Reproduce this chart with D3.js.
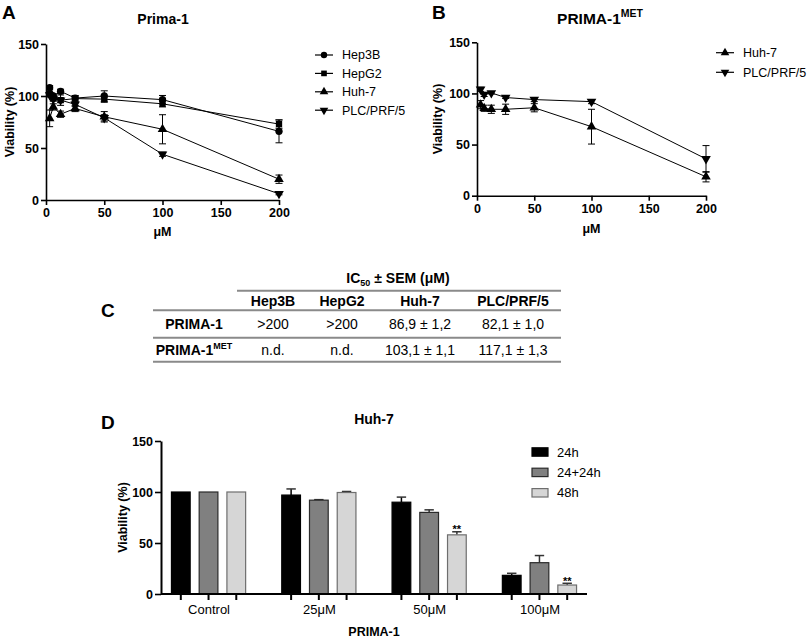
<!DOCTYPE html>
<html><head><meta charset="utf-8">
<script src="https://cdn.jsdelivr.net/npm/d3@7"></script>
<style>
body{margin:0;background:#fff;}
text{font-family:"Liberation Sans",Arial,Helvetica,sans-serif;fill:#000;}
</style>
</head><body>
<svg id="c" width="809" height="640"></svg>
<script>
// ---------- DATA ----------
const concentrations = [3.125, 6.25, 12.5, 25, 50, 100, 200];
const xTicks = [0, 50, 100, 150, 200];
const yTicks = [0, 50, 100, 150];

// Panel A (Prima-1)
const namesA = ["Hep3B", "HepG2", "Huh-7", "PLC/PRF/5"];
const hep3bMean = [108, 100, 104.5, 98, 100, 96.5, 66];
const hep3bSem  = [2, 2, 2, 2, 5, 4, 11];
const hepg2Mean = [102, 98, 96, 97.5, 97, 92.5, 73];
const hepg2Sem  = [2, 2, 5, 3, 3, 3, 4];
const huh7AMean = [78.5, 89.5, 82.5, 88, 80, 68, 20];
const huh7ASem  = [8, 3, 3, 3, 5, 14, 4];
const plcAMean  = [101, 97, 96, 92, 79, 44, 6];
const plcASem   = [2, 2, 2, 2, 3, 2, 1];

// Panel B (PRIMA-1MET)
const namesB = ["Huh-7", "PLC/PRF/5"];
const huh7BMean = [89, 85.5, 84.5, 84.5, 86, 67.5, 18.5];
const huh7BSem  = [4, 3, 4, 5, 4, 17, 5];
const plcBMean  = [104, 99, 100.5, 96, 94, 92, 36];
const plcBSem   = [2, 2, 1, 1, 2, 2, 13];

// Panel C (table)
const tableCols = ["Hep3B", "HepG2", "Huh-7", "PLC/PRF/5"];
const tableRowNames = ["PRIMA-1", "PRIMA-1"];
const tableRowSup = ["", "MET"];
const ic50Prima1 = [">200", ">200", "86,9 ± 1,2", "82,1 ± 1,0"];
const ic50Prima1Met = ["n.d.", "n.d.", "103,1 ± 1,1", "117,1 ± 1,3"];

// Panel D (Huh-7 bars)
const groupsD = ["Control", "25μM", "50μM", "100μM"];
const seriesD = ["24h", "24+24h", "48h"];
const d24Mean   = [100, 97, 90, 18.3];
const d24Err    = [0, 6, 5, 2];
const d2424Mean = [100, 92, 80, 30.7];
const d2424Err  = [0, 0.5, 2.5, 7];
const d48Mean   = [100, 99.5, 58, 8.8];
const d48Err    = [0, 1, 3, 1.7];
const d48Sig    = ["", "", "**", "**"];

// ---------- DRAW ----------
const svg = d3.select("#c");
const symbolFor = {
  "Hep3B": {type: d3.symbolCircle, rot: 0},
  "HepG2": {type: d3.symbolSquare, rot: 0},
  "Huh-7": {type: d3.symbolTriangle, rot: 0},
  "PLC/PRF/5": {type: d3.symbolTriangle, rot: 180}
};

function styleAxis(sel, fs) {
  sel.select(".domain").attr("stroke", "#000").attr("stroke-width", 1.6);
  sel.selectAll(".tick line").attr("stroke", "#000").attr("stroke-width", 1.6);
  sel.selectAll(".tick text").style("font-size", fs + "px").style("font-weight", "bold").attr("fill", "#000");
}

function linePanel(cfg) {
  const x = d3.scaleLinear().domain([0, 200]).range(cfg.xr);
  const y = d3.scaleLinear().domain([0, 150]).range(cfg.yr);
  const g = svg.append("g");
  const gx = g.append("g").attr("transform", `translate(0,${cfg.yr[0]})`)
    .call(d3.axisBottom(x).tickValues(xTicks).tickSize(5).tickSizeOuter(0).tickPadding(3));
  styleAxis(gx, 12.5);
  const gy = g.append("g").attr("transform", `translate(${cfg.xr[0]},0)`)
    .call(d3.axisLeft(y).tickValues(yTicks).tickSize(5).tickSizeOuter(0).tickPadding(2));
  styleAxis(gy, 12.5);

  const line = d3.line().x(d => x(d.c)).y(d => y(d.m));
  cfg.series.forEach(s => {
    const pts = concentrations.map((c, i) => ({c, m: s.mean[i], e: s.sem[i]}));
    g.append("path").datum(pts).attr("d", line).attr("fill", "none")
      .attr("stroke", "#000").attr("stroke-width", 1);
    const eb = g.append("g").attr("stroke", "#000").attr("stroke-width", 1);
    pts.forEach(p => {
      const cx = x(p.c), t = y(p.m + p.e), b = y(p.m - p.e);
      eb.append("line").attr("x1", cx).attr("x2", cx).attr("y1", t).attr("y2", b);
      eb.append("line").attr("x1", cx - 3.5).attr("x2", cx + 3.5).attr("y1", t).attr("y2", t);
      eb.append("line").attr("x1", cx - 3.5).attr("x2", cx + 3.5).attr("y1", b).attr("y2", b);
    });
    const sym = symbolFor[s.name];
    g.selectAll(null).data(pts).enter().append("path")
      .attr("d", d3.symbol(sym.type, sym.type === d3.symbolCircle ? 42 : 40))
      .attr("transform", d => `translate(${x(d.c)},${y(d.m)}) rotate(${sym.rot})`)
      .attr("fill", "#000");
  });

  // legend
  cfg.series.forEach((s, i) => {
    const ly = cfg.legendY + i * cfg.legendDy;
    const sym = symbolFor[s.name];
    g.append("line").attr("x1", cfg.legendX - 9).attr("x2", cfg.legendX + 9)
      .attr("y1", ly).attr("y2", ly).attr("stroke", "#000").attr("stroke-width", 1.2);
    g.append("path").attr("d", d3.symbol(sym.type, 32))
      .attr("transform", `translate(${cfg.legendX},${ly}) rotate(${sym.rot})`).attr("fill", "#000");
    g.append("text").attr("x", cfg.legendX + 18).attr("y", ly).attr("dy", "0.35em")
      .style("font-size", "12.5px").text(s.name);
  });

  // axis labels
  const midY = (cfg.yr[0] + cfg.yr[1]) / 2;
  g.append("text").attr("transform", `translate(${cfg.ylabX},${midY}) rotate(-90)`)
    .attr("text-anchor", "middle").attr("dy", "0.35em")
    .style("font-size", "12.5px").style("font-weight", "bold").text("Viability (%)");
  g.append("text").attr("x", (cfg.xr[0] + cfg.xr[1]) / 2).attr("y", cfg.xlabY).attr("dy", "0.35em")
    .attr("text-anchor", "middle").style("font-size", "12.5px").style("font-weight", "bold").text("μM");
  return g;
}

// Panel A
linePanel({
  xr: [46, 279], yr: [200, 44],
  series: [
    {name: namesA[0], mean: hep3bMean, sem: hep3bSem},
    {name: namesA[1], mean: hepg2Mean, sem: hepg2Sem},
    {name: namesA[2], mean: huh7AMean, sem: huh7ASem},
    {name: namesA[3], mean: plcAMean, sem: plcASem}
  ],
  legendX: 324, legendY: 55, legendDy: 18.4, ylabX: 10, xlabY: 232
});
svg.append("text").attr("x", 163).attr("y", 24).attr("text-anchor", "middle")
  .style("font-size", "14px").style("font-weight", "bold").text("Prima-1");
svg.append("text").attr("x", 2).attr("y", 19).style("font-size", "19px").style("font-weight", "bold").text("A");

// Panel B
linePanel({
  xr: [477, 706], yr: [195.7, 42.3],
  series: [
    {name: namesB[0], mean: huh7BMean, sem: huh7BSem},
    {name: namesB[1], mean: plcBMean, sem: plcBSem}
  ],
  legendX: 725, legendY: 52.7, legendDy: 19.6, ylabX: 438, xlabY: 229
});
const tB = svg.append("text").attr("x", 600).attr("y", 24).attr("text-anchor", "middle")
  .style("font-size", "15.5px").style("font-weight", "bold");
tB.append("tspan").text("PRIMA-1");
tB.append("tspan").attr("dy", -7).style("font-size", "10.5px").text("MET");
svg.append("text").attr("x", 432).attr("y", 19).style("font-size", "19px").style("font-weight", "bold").text("B");

// Panel C (table)
const colX = d3.scaleOrdinal().domain(tableCols).range([273, 342, 420, 513]);
const rowLabelX = 194;
const tc = svg.append("g");
svg.append("text").attr("x", 101).attr("y", 317).style("font-size", "19px").style("font-weight", "bold").text("C");
const tt = tc.append("text").attr("x", 398).attr("y", 283).attr("text-anchor", "middle")
  .style("font-size", "14px").style("font-weight", "bold");
tt.append("tspan").text("IC");
tt.append("tspan").attr("dy", 3).style("font-size", "9px").text("50");
tt.append("tspan").attr("dy", -3).text(" ± SEM (μM)");
const hLines = [{x1: 237, y: 290.7}, {x1: 153, y: 310.3}, {x1: 153, y: 337.7}, {x1: 153, y: 361.7}];
hLines.forEach(l => tc.append("line").attr("x1", l.x1).attr("x2", 561).attr("y1", l.y).attr("y2", l.y)
  .attr("stroke", "#8a8a8a").attr("stroke-width", 2));
tableCols.forEach(c => tc.append("text").attr("x", colX(c)).attr("y", 301.5).attr("dy", "0.35em")
  .attr("text-anchor", "middle").style("font-size", "14px").style("font-weight", "bold").text(c));
const rowsY = [324, 350];
[ic50Prima1, ic50Prima1Met].forEach((vals, r) => {
  const lab = tc.append("text").attr("x", rowLabelX).attr("y", rowsY[r]).attr("dy", "0.35em")
    .attr("text-anchor", "middle").style("font-size", "14px").style("font-weight", "bold");
  lab.append("tspan").text(tableRowNames[r]);
  if (tableRowSup[r]) lab.append("tspan").attr("dy", -6).style("font-size", "9px").text(tableRowSup[r]);
  vals.forEach((v, i) => tc.append("text").attr("x", colX(tableCols[i])).attr("y", rowsY[r]).attr("dy", "0.35em")
    .attr("text-anchor", "middle").style("font-size", "14px").text(v));
});

// Panel D (bars)
const gD = svg.append("g");
const xg = d3.scalePoint().domain(groupsD).range([161, 587]).padding(0.431);
const xs = d3.scaleBand().domain(seriesD).range([-41.6, 41.6]).paddingInner(0.325).paddingOuter(0.1625);
const yD = d3.scaleLinear().domain([0, 150]).range([594, 441]);
const barFill = {"24h": "#000000", "24+24h": "#808080", "48h": "#d6d6d6"};
const barStroke = {"24h": "#000000", "24+24h": "#2a2a2a", "48h": "#6e6e6e"};
const seriesData = [
  {name: seriesD[0], mean: d24Mean, err: d24Err, sig: null},
  {name: seriesD[1], mean: d2424Mean, err: d2424Err, sig: null},
  {name: seriesD[2], mean: d48Mean, err: d48Err, sig: d48Sig}
];
const bars = [];
seriesData.forEach(s => groupsD.forEach((gname, i) => bars.push({g: gname, s: s.name, v: s.mean[i], e: s.err[i], sig: s.sig ? s.sig[i] : ""})));

const gyD = gD.append("g").attr("transform", "translate(161,0)")
  .call(d3.axisLeft(yD).tickValues(yTicks).tickSize(6).tickSizeOuter(0).tickPadding(2));
styleAxis(gyD, 12.5);
gyD.select(".domain").attr("stroke-width", 2);

// error bars (upward)
bars.filter(d => d.e > 0).forEach(d => {
  const cx = xg(d.g) + xs(d.s) + xs.bandwidth() / 2;
  const top = yD(d.v + d.e);
  gD.append("line").attr("x1", cx).attr("x2", cx).attr("y1", yD(d.v)).attr("y2", top).attr("stroke", barStroke[d.s] === "#000000" ? "#000" : "#333").attr("stroke-width", 1.5);
  gD.append("line").attr("x1", cx - 4.7).attr("x2", cx + 4.7).attr("y1", top).attr("y2", top).attr("stroke", "#333").attr("stroke-width", 1.5);
  if (d.sig) gD.append("text").attr("x", cx).attr("y", top + 1.5).attr("text-anchor", "middle")
    .style("font-size", "11px").style("font-weight", "bold").text(d.sig);
});
gD.selectAll("rect.bar").data(bars).enter().append("rect").attr("class", "bar")
  .attr("x", d => xg(d.g) + xs(d.s)).attr("width", xs.bandwidth())
  .attr("y", d => yD(d.v)).attr("height", d => yD(0) - yD(d.v))
  .attr("fill", d => barFill[d.s]).attr("stroke", d => barStroke[d.s]).attr("stroke-width", 1.2);

// x axis
const gxD = gD.append("g").attr("transform", "translate(0,594)")
  .call(d3.axisBottom(xg).tickSize(0).tickSizeOuter(0).tickPadding(11));
gxD.select(".domain").attr("stroke", "#000").attr("stroke-width", 2).attr("d", "M161,0H587");
gxD.selectAll(".tick text").style("font-size", "13px").attr("fill", "#000");
bars.forEach(d => {
  const cx = xg(d.g) + xs(d.s) + xs.bandwidth() / 2;
  gD.append("line").attr("x1", cx).attr("x2", cx).attr("y1", 594).attr("y2", 600)
    .attr("stroke", "#000").attr("stroke-width", 2);
});

// legend D
seriesD.forEach((s, i) => {
  const ly = 452 + i * 20.4;
  gD.append("rect").attr("x", 532).attr("y", ly - 4.2).attr("width", 16).attr("height", 8.4)
    .attr("fill", barFill[s]).attr("stroke", barStroke[s]).attr("stroke-width", 1.2);
  gD.append("text").attr("x", 557).attr("y", ly).attr("dy", "0.35em").style("font-size", "13px").text(s);
});

gD.append("text").attr("x", 374).attr("y", 423.5).attr("text-anchor", "middle")
  .style("font-size", "14px").style("font-weight", "bold").text("Huh-7");
gD.append("text").attr("transform", `translate(123,${(594 + 441) / 2}) rotate(-90)`)
  .attr("text-anchor", "middle").attr("dy", "0.35em")
  .style("font-size", "12.5px").style("font-weight", "bold").text("Viability (%)");
gD.append("text").attr("x", 374).attr("y", 632).attr("dy", "0.35em").attr("text-anchor", "middle")
  .style("font-size", "12.5px").style("font-weight", "bold").text("PRIMA-1");
svg.append("text").attr("x", 101).attr("y", 429).style("font-size", "19px").style("font-weight", "bold").text("D");
</script>
</body></html>
